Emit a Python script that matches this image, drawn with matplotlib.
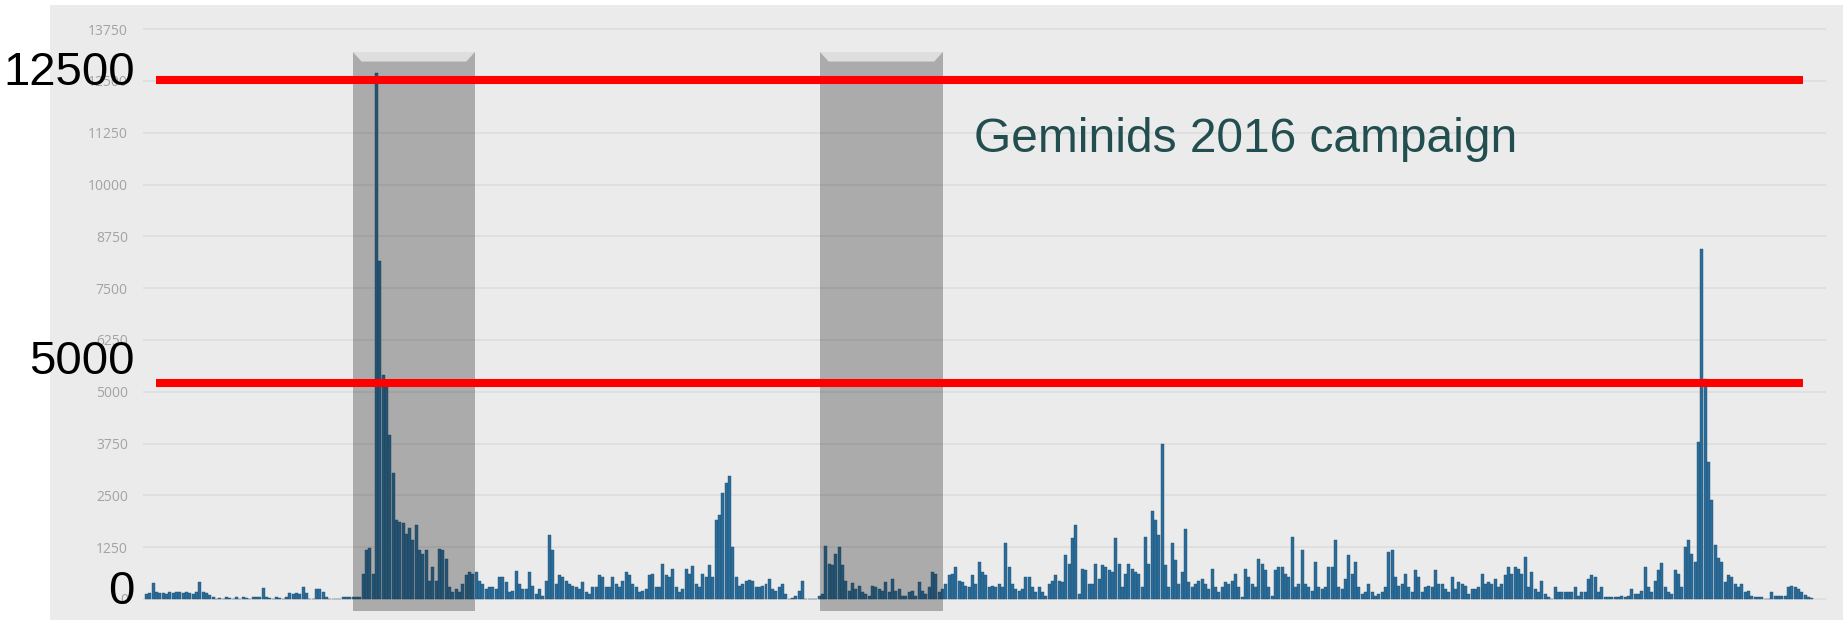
import matplotlib
matplotlib.use("Agg")
import matplotlib.pyplot as plt
from matplotlib.patches import Rectangle, Polygon
import numpy as np

# ---------------- data (hourly counts) ----------------
seg_early = [120, 150, 380, 170, 140, 150, 130, 160, 150, 170, 160, 140, 170, 150, 130, 160, 420, 160, 140, 100,
             40, 0, 30, 0, 40, 30, 0, 40, 0, 50, 30, 0, 50, 60, 40, 260, 50, 30, 0, 40, 30, 0, 60, 150, 130,
             150, 120, 280, 140, 0, 0, 230, 240, 180, 40, 0, 0, 0, 0, 40, 50, 40, 50]
seg_geminids = [40, 60, 610, 1175, 1240, 610, 12700, 8150, 5400, 5150, 3950, 3050, 1900, 1860, 1830,
                1580, 1725, 1420, 1780, 1175, 1090, 1175, 445, 770, 445, 1215, 1175, 970, 285, 160,
                245, 160, 365, 570, 650, 610]
seg_mid = [650, 445, 365, 245, 285, 285, 245, 525, 525, 405, 160, 200, 670, 365, 245, 245, 650, 325, 120, 245,
           80, 445, 1540, 1175, 365, 570, 525, 445, 365, 325, 285, 245, 405, 160, 120, 285, 285, 570, 525, 285,
           285, 525, 365, 285, 445, 650, 570, 365, 285, 160, 200, 245, 570, 610, 285, 285, 850, 570, 525, 730,
           285, 160, 245, 730, 610, 785, 365, 285, 610, 525, 810, 525, 1900, 2025, 2550, 2800, 2970, 1255, 525,
           325, 365, 445, 460, 445, 285, 285, 325, 365, 485, 245, 200, 285, 365, 120, 0, 30, 80, 200, 445]
seg_gap = [0, 0, 0, 0]
seg_late1 = [80, 120, 1270, 850, 810, 1095, 1255, 810, 445, 200, 380, 245, 325, 160, 120, 80, 325, 285, 245, 200,
             405, 160, 485, 200, 245, 80, 80, 160, 200, 80, 405, 200, 120, 285, 650, 610, 160, 245, 365, 570,
             610, 770, 445, 405, 325, 285, 570, 365, 890, 650, 570, 285, 325, 285, 365, 285, 1350, 770, 365, 245,
             200, 245, 525, 525, 285, 160, 285, 160, 80, 365, 445, 570, 445, 405, 1055, 850, 1460, 1780, 120, 730,
             690, 365, 365, 850, 485, 810, 770, 690, 650, 1460, 850, 285, 610, 850, 730, 650, 610, 285]
seg_late2 = [1500, 850, 2130, 1900, 1540, 3730, 810, 285, 1340, 930, 365, 650, 1700, 405, 285, 365, 445, 485, 365, 245,
             730, 285, 160, 285, 405, 365, 445, 610, 285, 40, 730, 525, 365, 285, 970, 850, 690, 285, 80, 690,
             770, 770, 610, 525, 1500, 285, 365, 1175, 365, 285, 200, 890, 285, 245, 285, 770, 770, 1435, 285, 245,
             485, 1055, 610, 890, 285, 120, 160, 365, 160, 80, 120, 160, 285, 1135, 1175, 525, 325, 365, 610, 285,
             160, 690, 525, 160, 285, 325, 285, 690, 365, 365, 245, 160, 525, 245, 405, 365, 325, 120, 245, 245]
seg_late3 = [285, 610, 365, 405, 365, 485, 285, 365, 570, 770, 610, 770, 730, 610, 1010, 285, 650, 245, 160, 445,
             120, 40, 0, 285, 160, 160, 160, 160, 160, 285, 80, 160, 160, 485, 570, 525, 160, 285, 40, 40,
             40, 40, 40, 80, 40, 80, 245, 120, 120, 200, 770, 285, 160, 445, 690, 865, 285, 160, 120, 690,
             610, 285, 1255, 1435, 1095, 890, 3800, 8450, 5300, 3300, 2400, 1300, 980, 900, 400, 570, 525, 365, 285, 365,
             160, 200, 80, 40, 40, 40, 0, 0, 160, 80, 80, 80, 80, 300, 310, 300, 250, 160, 100, 60, 30]

counts = seg_early + seg_geminids + seg_mid + seg_gap + seg_late1 + seg_late2 + seg_late3
hours = np.arange(len(counts))

y_ticks = list(range(0, 13751, 1250))
threshold_values = [12524, 5212]
threshold_labels = ["12500", "5000", "0"]
shaded_spans = [(61.95, 98.6), (202.2, 239.1)]
title_text = "Geminids 2016 campaign"

# ---------------- figure ----------------
W, H = 1843, 620
fig = plt.figure(figsize=(W / 100, H / 100), dpi=100)
fig.patch.set_facecolor("white")

ax = fig.add_axes([50 / W, 0, 1 - 50 / W, 615 / H])
ax.set_facecolor("#ebebeb")
for s in ax.spines.values():
    s.set_visible(False)

ax.set_xlim(-29.0, 509.4)
ax.set_ylim(-507, 14333)

# gridlines
ax.hlines(y_ticks, -1.1, 504.2, color="#dfdfdf", lw=1.4, zorder=1)

# bars
ax.bar(hours, counts, width=0.9, color="#2b6d9a", edgecolor="#1f4f70", linewidth=0.3, zorder=2)

# shaded campaign windows (overlay)
for x0, x1 in shaded_spans:
    ax.add_patch(Rectangle((x0, -290), x1 - x0, 13199 + 290, facecolor="#181818", alpha=0.30,
                           edgecolor="none", zorder=3))
    d = 2.6
    h = 230
    ax.add_patch(Polygon([(x0, 13199), (x1, 13199), (x1 - d, 13199 - h), (x0 + d, 13199 - h)],
                         closed=True, facecolor="#ececec", alpha=0.8, edgecolor="none", zorder=4))

# red threshold lines
ax.hlines(threshold_values, 2.8, 497.4, color="#ff0000", lw=5.8, zorder=5, capstyle="butt")

# small grey y tick labels inside the grey area
ax.set_yticks(y_ticks)
ax.set_yticklabels([str(v) for v in y_ticks])
ax.tick_params(axis="y", length=0, pad=-56, labelsize=10, labelcolor="#a3a3a3")
for lab in ax.get_yticklabels():
    lab.set_fontfamily("Open Sans")
    lab.set_horizontalalignment("right")
ax.set_xticks([])

# big black labels
big_y = [73, 362, 592]
for txt, yp in zip(threshold_labels, big_y):
    fig.text(135 / W, 1 - yp / H, txt, ha="right", va="center", fontsize=34, color="black",
             family="Liberation Sans")

fig.text(974 / W, 1 - 140 / H, title_text, ha="left", va="center", fontsize=34.5, color="#224e50",
         family="Liberation Sans")

fig.savefig("out.png", dpi=100, facecolor="white")
